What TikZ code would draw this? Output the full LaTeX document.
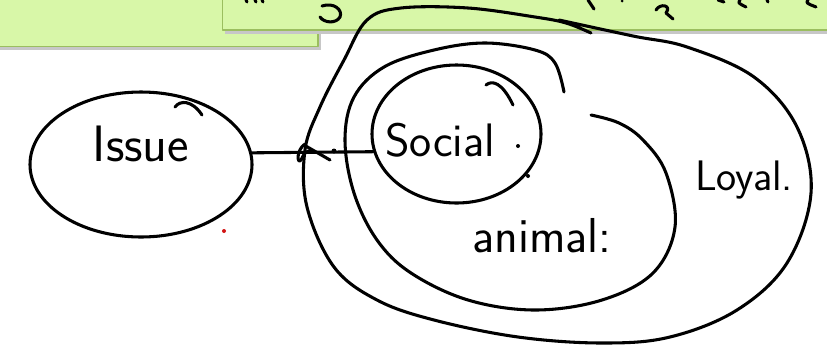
\documentclass[tikz,border=0pt]{standalone}
\usepackage{tikz}
\usetikzlibrary{shapes.geometric}
\usetikzlibrary{calc}
\usetikzlibrary{positioning}
\definecolor{slidegreen}{RGB}{216,247,168}
\definecolor{slideedge}{RGB}{155,190,95}
\definecolor{inkred}{RGB}{210,20,20}

\begin{document}
\begin{tikzpicture}[x=0.75pt, y=-0.75pt, line cap=round, line join=round,
	pen/.style={black, line width=2.3pt},
	blob/.style={draw, ellipse, pen, inner sep=0pt},
	word/.style={draw=none, text=black, font=\sffamily\fontsize{32}{32}\selectfont}]
				
				\useasboundingbox (0,0) rectangle (827,358);
				
				% the two slide boxes at the top
				\fill[black!22] (-5,-5) rectangle (321,50);
				\draw[slideedge, fill=slidegreen, line width=1.2pt] (-5,-5) rectangle (318,46.5);
				\fill[black!22] (225,-5) rectangle (832,33.5);
				\draw[slideedge, fill=slidegreen, line width=1.2pt] (222.5,-5) rectangle (832,30);
				
				% cut off writing on the slide
				\draw[pen] (246,0) -- (247,2);
				\draw[pen] (255,0) -- (256,2);
				\draw[pen] (262,0) -- (263,2);
				\draw[pen] (322,6) .. controls (334,2) and (343,10) .. (340,17) .. controls (336,24) and (324,23) .. (320,17);
				\draw[pen] (588,0) -- (594,9);
				\fill (622,1) circle (1.5);
				\draw[pen] (656,10) .. controls (660,3) and (672,5) .. (666,13) -- (673,19);
				\draw[pen] (718,0) -- (724,2);
				\draw[pen] (740,0) .. controls (738,3) .. (746,7);
				\draw[pen] (767,0) -- (768,2);
				\draw[pen] (808,0) .. controls (806,3) .. (816,7);
				
				% the nested sets
				\draw[pen] plot[smooth, tension=0.6] coordinates {(591,33) (566,23) (535,17) (468,8) (401,8) (367,20) (344,60) (320,107) (305,150) (307,207) (334,267) (377,300) (434,320) (518,337) (602,343) (670,337) (737,310) (787,263) (811,193) (797,127) (754,77) (687,47) (633,36) (559,20)};
				\draw[pen] plot[smooth, tension=0.6] coordinates {(564,92) (555,63) (535,50) (485,43) (434,50) (384,67) (354,97) (345,140) (354,193) (377,240) (411,273) (468,300) (535,310) (602,300) (653,273) (675,227) (666,173) (643,140) (619,123) (591,115)};
				
				\node[blob, minimum width=222*0.75pt, minimum height=145*0.75pt] (issue) at (141,164.5) {};
				\node[blob, minimum width=169*0.75pt, minimum height=138*0.75pt] (social) at (456.5,134) {};
				\draw[pen] (175,107) .. controls (180,100) and (192,100) .. (202,115);
				\draw[pen] (486,85) .. controls (492,80) and (502,82) .. (513,105);
				
				\node[word, scale=1.2] (issuetxt) at (141,144) {Issue};
				\node[word, scale=1.1] (socialtxt) at (440,140) {Social};
				\node[word] (loyaltxt) at (744,180) {Loyal.};
				\node[word, scale=1.15] (animaltxt) at (542,236) {animal:};
				\fill (518,146) circle (2);
				\fill (528,176) circle (2);
				
				% link
				\draw[pen] (issue.6) -- (social.192);
				\draw[pen] (304,145) -- (330,160);
				\draw[pen] (305,144) .. controls (296,150) and (297,165) .. (301,160) .. controls (305,152) .. (312,150);
				\fill (334,151) circle (2.5);
				
				\fill[inkred] (224,231) circle (2);
				\end{tikzpicture}
\end{document}
